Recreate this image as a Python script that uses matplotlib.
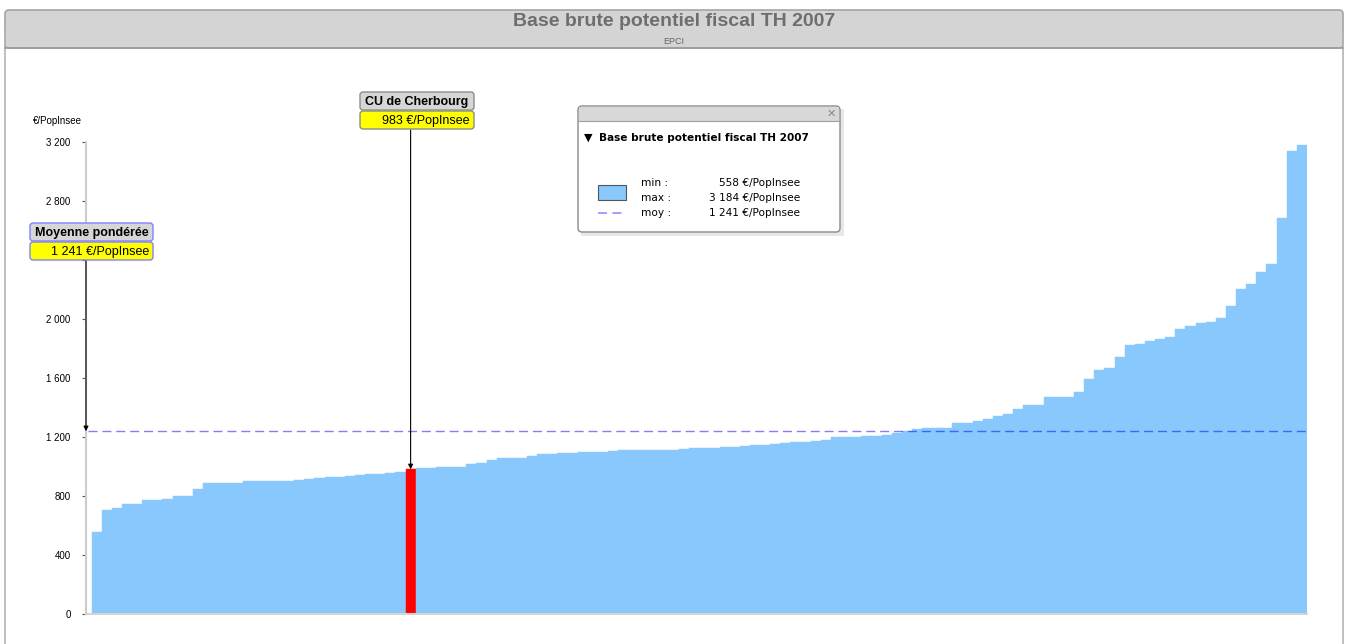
import numpy as np
import matplotlib.pyplot as plt
from matplotlib.patches import FancyBboxPatch, Rectangle
from matplotlib.transforms import blended_transform_factory, ScaledTranslation

# data (EPCI sorted by value, €/PopInsee)
values = [
    558, 704, 720, 750, 750, 775, 775, 782, 802, 802,
    847, 888, 888, 888, 890, 905, 905, 905, 905, 907,
    913, 920, 927, 934, 934, 937, 942, 948, 952, 958,
    963, 983, 993, 994, 997, 997, 1000, 1020, 1027, 1043,
    1057, 1063, 1063, 1072, 1084, 1084, 1095, 1095, 1097, 1097,
    1102, 1105, 1111, 1111, 1111, 1111, 1112, 1113, 1120, 1127,
    1127, 1128, 1134, 1135, 1141, 1147, 1150, 1155, 1160, 1165,
    1170, 1173, 1179, 1200, 1202, 1204, 1206, 1209, 1213, 1230,
    1240, 1254, 1261, 1262, 1263, 1295, 1300, 1313, 1322, 1345,
    1361, 1395, 1418, 1420, 1470, 1470, 1472, 1509, 1595, 1656,
    1670, 1745, 1827, 1830, 1854, 1868, 1877, 1936, 1952, 1977,
    1980, 2009, 2091, 2204, 2236, 2322, 2377, 2690, 3140, 3184,
]
highlight_idx = 31
highlight_name = "CU de Cherbourg"
mean_value = 1241
mean_name = "Moyenne pondérée"
y_ticks = [0, 400, 800, 1200, 1600, 2000, 2400, 2800, 3200]
hidden_tick_labels = [2400]
unit = "€/PopInsee"
title = "Base brute potentiel fiscal TH 2007"
subtitle = "EPCI"


def fmt(v):
    return f"{v:,}".replace(",", " ")


W, H = 1348, 644
BAR = "#88c8fc"
fig = plt.figure(figsize=(W / 100, H / 100), dpi=100)

# pixel-coordinate background layer
bg = fig.add_axes([0, 0, 1, 1], zorder=0)
bg.set_xlim(0, W)
bg.set_ylim(H, 0)
bg.axis("off")

# overlay layer for labels and the legend popup
ov = fig.add_axes([0, 0, 1, 1], zorder=3)
ov.set_xlim(0, W)
ov.set_ylim(H, 0)
ov.axis("off")
ov.patch.set_alpha(0)

# frame and header
bg.plot([5, 5], [30, H], color="#b4b4b4", lw=1.2)
bg.plot([1343, 1343], [30, H], color="#b4b4b4", lw=1.2)
bg.add_patch(FancyBboxPatch((5, 10), 1338, 38, boxstyle="round,pad=0,rounding_size=4",
                            fc="#d4d4d4", ec="#a4a4a4", lw=1.2))
bg.plot([5, 1343], [48, 48], color="#9c9c9c", lw=1.2)
bg.text(674, 21, title, ha="center", va="center", fontsize=14, fontweight="bold",
        color="#6e6e6e", family="Liberation Sans")
bg.text(674, 41, subtitle, ha="center", va="center", fontsize=6.5, color="#666666",
        family="Liberation Sans")
bg.text(33, 121, unit, ha="left", va="center", fontsize=7, color="black",
        family="Liberation Sans")

# main chart
n = len(values)
ax = fig.add_axes([86 / W, (H - 614.3) / H, (1307 - 86) / W, 472 / H], zorder=1)
ax.patch.set_alpha(0)
x = np.arange(n)
colors = [BAR] * n
colors[highlight_idx] = "#ff0000"
ax.bar(x, values, width=1.0, color=colors, edgecolor=colors, linewidth=0.3, zorder=2)
ax.hlines(mean_value, -0.85, n - 0.5, colors="#0000ff", alpha=0.5, lw=1.0,
          linestyles=(0, (6.5, 3.5)), zorder=3)
ax.set_xlim(-1.05, n - 0.5)
ax.set_ylim(0, 3200)
ax.set_yticks(y_ticks)
ax.set_yticklabels(["" if t in hidden_tick_labels else fmt(t) for t in y_ticks],
                   fontsize=7, family="Liberation Sans", color="black")
for lab in ax.get_yticklabels():
    lab.set_transform(lab.get_transform() + ScaledTranslation(0, 3 / 72, fig.dpi_scale_trans))
ax.tick_params(axis="y", length=3, width=0.8, color="#555555", pad=8)
ax.set_xticks([])
for s in ["top", "right"]:
    ax.spines[s].set_visible(False)
ax.spines["left"].set_color("#cccccc")
ax.spines["left"].set_linewidth(1.5)
ax.spines["bottom"].set_color("#d4d4d4")
ax.spines["bottom"].set_linewidth(1.5)

# arrows from the labels to the chart
mix = blended_transform_factory(ax.transData, ov.transData)
arrow = dict(arrowstyle="-|>", color="black", lw=0.8, mutation_scale=7, shrinkA=0, shrinkB=0)
ax.annotate("", xy=(highlight_idx, values[highlight_idx]), xytext=(highlight_idx, 130),
            textcoords=mix, arrowprops=arrow, annotation_clip=False, zorder=5)
ax.annotate("", xy=(-1.05, mean_value), xytext=(-1.05, 260),
            textcoords=mix, arrowprops=arrow, annotation_clip=False, zorder=5)


def tag(x0, y0, w, name, val, edge):
    ov.add_patch(FancyBboxPatch((x0, y0), w, 18, boxstyle="round,pad=0,rounding_size=3",
                                fc="#d6d6d6", ec=edge, lw=1))
    ov.add_patch(FancyBboxPatch((x0, y0 + 19), w, 18, boxstyle="round,pad=0,rounding_size=3",
                                fc="#ffff00", ec=edge, lw=1))
    ov.text(x0 + w / 2, y0 + 9.5, name, ha="center", va="center", fontsize=9,
            fontweight="bold", family="Liberation Sans", color="black")
    ov.text(x0 + w - 4, y0 + 28.5, f"{fmt(val)} {unit}", ha="right", va="center",
            fontsize=9, family="Liberation Sans", color="black")


tag(30, 223, 123, mean_name, mean_value, "#8080ff")
tag(360, 92, 114, highlight_name, values[highlight_idx], "#8c8c8c")

# legend popup
ov.add_patch(Rectangle((581, 109), 263, 127, fc="#d0d0d0", ec="none", alpha=0.5))
ov.add_patch(FancyBboxPatch((578, 106), 262, 126, boxstyle="round,pad=0,rounding_size=4",
                            fc="white", ec="#8a8a8a", lw=1))
ov.add_patch(Rectangle((579, 107), 260, 14, fc="#d8d8d8", ec="none"))
ov.plot([578, 840], [121, 121], color="#a0a0a0", lw=0.8)
ov.text(831, 113.5, "✕", ha="center", va="center", fontsize=8, color="#888888",
        family="DejaVu Sans")
ov.text(584, 138, "▼", ha="left", va="center", fontsize=8, color="black", family="DejaVu Sans")
ov.text(599, 138, title, ha="left", va="center", fontsize=7.6, fontweight="bold",
        color="black", family="DejaVu Sans")
ov.add_patch(Rectangle((598, 185), 28, 15, fc=BAR, ec="#555555", lw=0.8))
ov.plot([598, 626], [213, 213], color="#9999ff", lw=1.3, linestyle=(0, (5, 3)))
rows = [("min :", min(values)), ("max :", max(values)), ("moy :", mean_value)]
for i, (lab, v) in enumerate(rows):
    yy = 183 + 15 * i
    ov.text(641, yy, lab, ha="left", va="center", fontsize=7.6, family="DejaVu Sans",
            color="black")
    ov.text(800, yy, f"{fmt(v)} {unit}", ha="right", va="center", fontsize=7.6,
            family="DejaVu Sans", color="black")

fig.savefig("out.png", dpi=100)
